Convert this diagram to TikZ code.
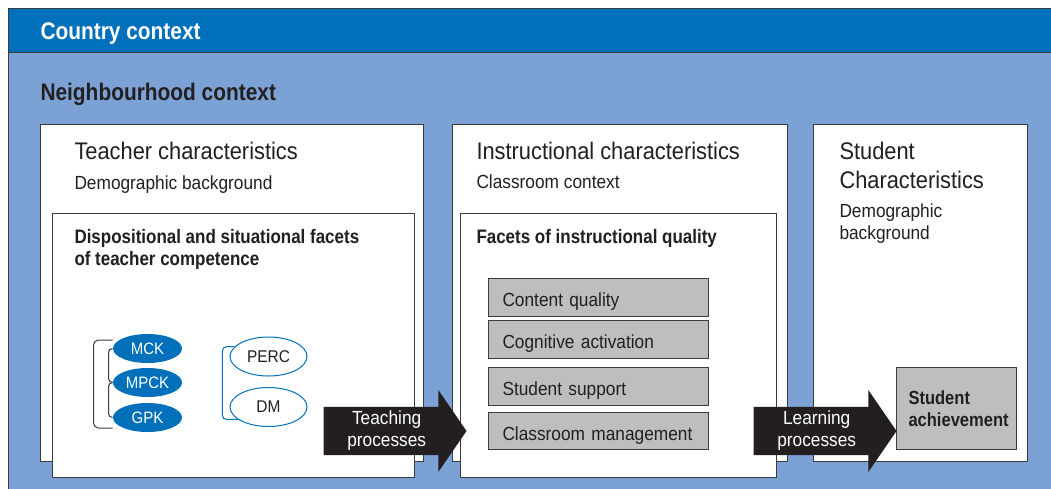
\documentclass[tikz,border=0pt]{standalone}
\usepackage{fontspec}
\setmainfont{Liberation Sans}[FakeStretch=0.91, BoldFeatures={FakeStretch=0.87}]
\usetikzlibrary{%
  shapes.geometric,% ellipses
  shapes.arrows,% process arrows
  positioning%
}
\definecolor{countryblue}{RGB}{0,112,186}
\definecolor{hoodblue}{RGB}{124,161,212}
\definecolor{boxgray}{RGB}{188,190,192}
\definecolor{inkgray}{RGB}{35,31,32}
\definecolor{edgegray}{RGB}{60,60,62}

\begin{document}
\begin{tikzpicture}
  [
  x=1pt, y=-1pt, line width=1pt, text=inkgray,
  panel/.style={rectangle, draw=edgegray, fill=white, anchor=north west, inner sep=0pt},
  facet/.style={rectangle, draw=edgegray, fill=boxgray, minimum width=220pt, minimum height=38pt, inner xsep=14pt, text width=192pt, text height=19pt, text depth=0pt, align=left, font=\fontsize{19}{22}\selectfont},
  knowledge/.style={ellipse, fill=countryblue, text=white, minimum width=69pt, minimum height=29pt, inner sep=0pt, font=\fontsize{16.5}{19}\selectfont},
  belief/.style={ellipse, draw=countryblue, fill=white, minimum width=77pt, minimum height=39pt, inner sep=0pt, font=\fontsize{17}{20}\selectfont},
  process/.style={single arrow, fill=inkgray, text=white, single arrow head extend=15.5pt, single arrow tip angle=111, minimum height=143pt, minimum width=82pt, inner sep=2pt, anchor=tail, align=center, font=\fontsize{19}{22}\selectfont},
  title/.style={anchor=base west, inner sep=0pt, align=left, font=\fontsize{24}{29}\selectfont},
  subtitle/.style={anchor=base west, inner sep=0pt, align=left, font=\fontsize{19}{22}\selectfont},
  facets/.style={anchor=base west, inner sep=0pt, align=left, font=\fontsize{19.5}{22}\selectfont\bfseries}
  ]

\clip (0,0) rectangle (1051,488);

% contexts
\node[panel, fill=hoodblue, minimum width=1060pt, minimum height=450pt] (hood) at (8,52) {};
\node[panel, fill=countryblue, minimum width=1060pt, minimum height=44pt] (country) at (8,8) {};
\node[title, text=white, font=\fontsize{24}{29}\selectfont\bfseries] (countrylab) at (40,39) {Country context};
\node[title, font=\fontsize{24}{29}\selectfont\bfseries] (hoodlab) at (40,100) {Neighbourhood context};

% teacher
\node[panel, minimum width=383pt, minimum height=337pt] (teacher) at (40,124) {};
\node[title] (teachtitle) at (74,159) {Teacher characteristics};
\node[subtitle] (teachdemo) at (74,189) {Demographic background};
\node[panel, minimum width=362pt, minimum height=264pt] (competence) at (52,213) {};
\node[facets] (comptitle) at (74,265) {Dispositional and situational facets\\of teacher competence};

\node[knowledge] (mck) at (147.5,348.5) {MCK};
\node[knowledge] (mpck) at (147.5,382.5) {MPCK};
\node[knowledge] (gpk) at (147.5,417.5) {GPK};
\draw[edgegray, rounded corners=5pt] ([yshift=8.5pt]mck.west) -- ++(-19,0) |- ([yshift=-10.5pt]gpk.west);
\draw[edgegray, rounded corners=4pt] (mck.west) -- ++(-4,0) |- (mpck.west);
\draw[edgegray, rounded corners=4pt] (gpk.west) -- ++(-4,0) |- (mpck.west);

\node[belief] (perc) at (268.5,356.5) {PERC};
\node[belief] (dm) at (268.5,407) {DM};
\draw[countryblue, rounded corners=4pt] (perc.164) -- ++(-12,0) |- (dm.202);

% instruction
\node[panel, minimum width=335pt, minimum height=337pt] (instr) at (452,124) {};
\node[title] (instrtitle) at (476,159) {Instructional characteristics};
\node[subtitle] (instrroom) at (476,188) {Classroom context};
\node[panel, minimum width=316pt, minimum height=264pt] (quality) at (460,213) {};
\node[facets] (qualtitle) at (476,243) {Facets of instructional quality};

\node[facet] (content) at (598.5,297) {Content quality};
\node[facet] (cognitive) at (598.5,339) {Cognitive activation};
\node[facet] (support) at (598.5,386) {Student support};
\node[facet, minimum height=37pt] (management) at (598.5,430.5) {Classroom management};

% student
\node[panel, minimum width=214pt, minimum height=337pt] (student) at (813,124) {};
\node[title] (studtitle) at (839,188) {Student\\Characteristics};
\node[subtitle] (studdemo) at (839,239) {Demographic\\background};
\node[panel, fill=boxgray, minimum width=120pt, minimum height=82pt, inner xsep=12pt, text width=96pt, align=left, font=\fontsize{19}{22}\selectfont\bfseries] (achieve) at (896,367) {Student\\achievement};

% processes
\node[process] (teach) at (323,431) {Teaching\\processes};
\node[process] (learn) at (753,431) {Learning\\processes};

\end{tikzpicture}
\end{document}
